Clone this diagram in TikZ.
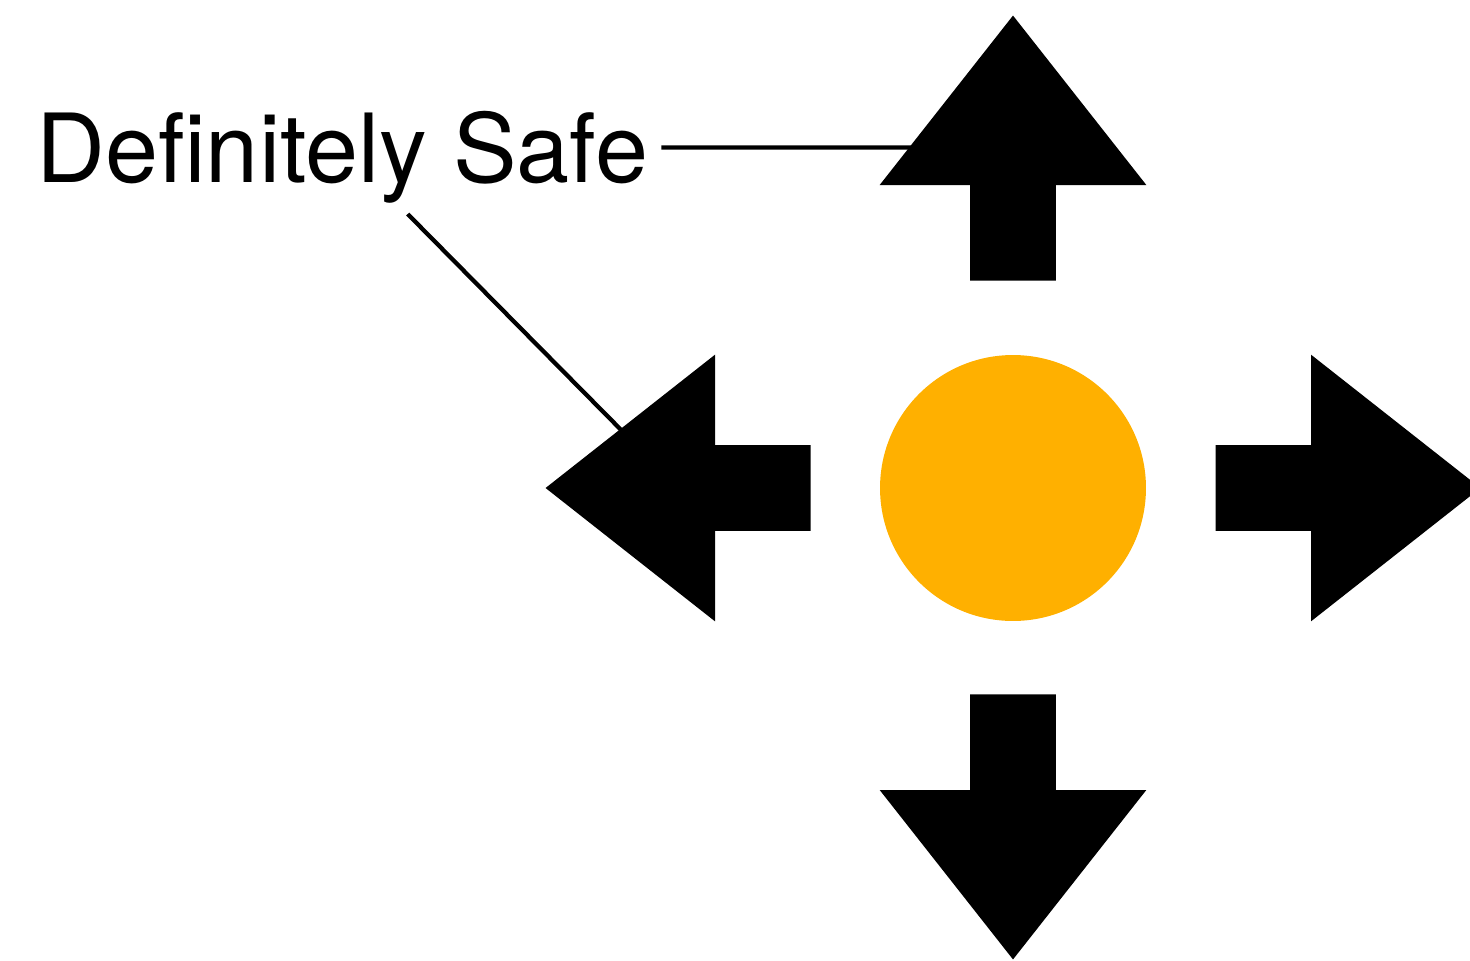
\documentclass[tikz,border=0pt]{standalone}
\usepackage{fontspec}
\setmainfont{TeX Gyre Heros}
\usepackage{xcolor}
\usepackage{tikz}
\usetikzlibrary{shapes.arrows}
\definecolor{safeorange}{HTML}{FFB000}
\tikzset{
  bigarrow/.style={single arrow,fill=black,draw=none,inner xsep=0pt,inner ysep=0.85cm,minimum height=5.3cm,single arrow head extend=1.81cm,single arrow tip angle=76.4,anchor=tip},
  dot/.style={circle,fill=safeorange,draw=none,inner sep=0pt,minimum size=5.32cm},
  tag/.style={font=\fontsize{54.3pt}{60pt}\selectfont,text height=1.4cm,text depth=0pt,inner xsep=0.26cm,inner ysep=0.62cm},
  link/.style={draw=black,line width=0.085cm},
}
\begin{document}
\begin{tikzpicture}[x=0.02cm,y=-0.02cm]
  \useasboundingbox (0,0) rectangle (1470,960);
  % label, pointing into the middle of two arrows
  \node[tag,anchor=base west] (safe) at (23,182.7) {Definitely Safe};
  \coordinate (upmid) at (1013,147.5);
  \coordinate (leftmid) at (678.5,488);
  \draw[link] (safe) -- (upmid);
  \draw[link] (safe) -- (leftmid);
  % robot and its four moves
  \node[dot] (robot) at (1013,488) {};
  \node[bigarrow,rotate=90] (up) at (1013,15) {};
  \node[bigarrow,rotate=-90] (down) at (1013,960) {};
  \node[bigarrow,rotate=180] (left) at (545,488) {};
  \node[bigarrow] (right) at (1481,488) {};
\end{tikzpicture}
\end{document}
